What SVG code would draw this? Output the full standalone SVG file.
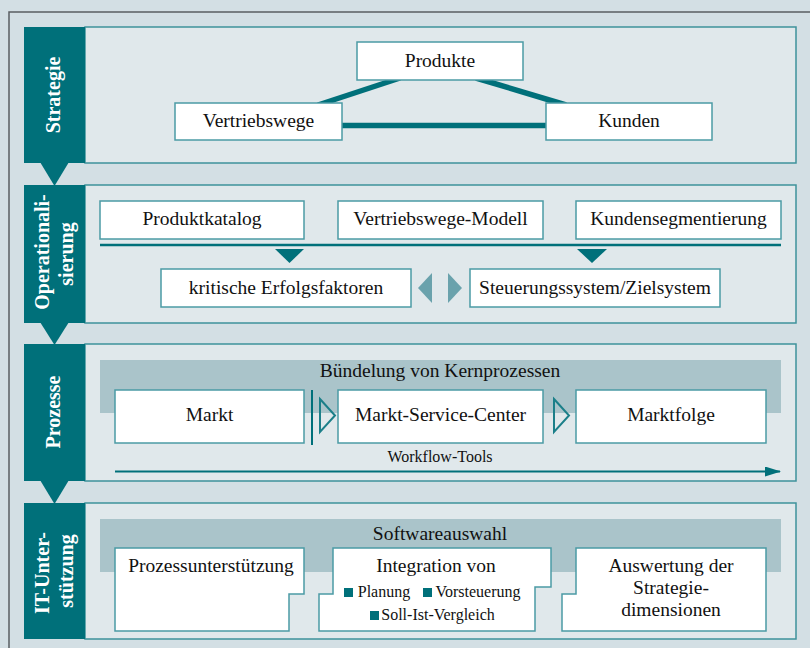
<svg xmlns="http://www.w3.org/2000/svg" width="810" height="648" viewBox="0 0 810 648">
<defs>
<style>
.bg{fill:#d3dfe4}
.frame{fill:none;stroke:#5a5f61;stroke-width:1.5}
.panel{fill:#e0e8eb;stroke:#3e929b;stroke-width:1.5}
.band{fill:#00707a}
.node{fill:#ffffff;stroke:#4b9ba5;stroke-width:1.5}
.grey{fill:#aac4ca}
.t{font-family:"Liberation Serif","Times New Roman",serif;font-size:19.5px;fill:#111;text-anchor:middle}
.ts{font-family:"Liberation Serif","Times New Roman",serif;font-size:16px;fill:#111;text-anchor:middle}
.lbl{font-family:"Liberation Serif","Times New Roman",serif;font-size:20px;font-weight:bold;fill:#ffffff;text-anchor:middle}
.tri{fill:#00707a}
.ltri{fill:#6aa2ac}
.sq{fill:#00707a}
</style>
<marker id="ah" markerWidth="16" markerHeight="10" refX="15" refY="5" orient="auto" markerUnits="userSpaceOnUse">
<path d="M0,0 L16,5 L0,10 Z" fill="#00707a"/>
</marker>
</defs>
<rect class="bg" x="0" y="0" width="810" height="648"/>
<rect class="frame" x="9" y="12" width="820" height="660"/>

<!-- Section panels -->
<g id="sec-strategie">
<rect class="panel" x="85" y="27" width="711" height="136"/>
<rect class="band" x="24" y="27" width="61" height="136"/>
<polygon class="tri" points="40,162 69,162 54.5,186"/>
<text class="lbl" transform="translate(60,95) rotate(-90)">Strategie</text>
</g>
<g id="sec-operationalisierung">
<rect class="panel" x="85" y="185" width="711" height="138"/>
<rect class="band" x="24" y="185" width="61" height="138"/>
<polygon class="tri" points="40,322 69,322 54.5,345"/>
<text class="lbl" transform="translate(49,252) rotate(-90)">Operationali-</text>
<text class="lbl" transform="translate(73,254) rotate(-90)">sierung</text>
</g>
<g id="sec-prozesse">
<rect class="panel" x="85" y="344" width="711" height="137"/>
<rect class="band" x="24" y="344" width="61" height="137"/>
<polygon class="tri" points="40,480 69,480 54.5,504"/>
<text class="lbl" transform="translate(60,412) rotate(-90)">Prozesse</text>
</g>
<g id="sec-it">
<rect class="panel" x="85" y="503" width="711" height="136"/>
<rect class="band" x="24" y="503" width="61" height="136"/>
<text class="lbl" transform="translate(49,573) rotate(-90)">IT-Unter-</text>
<text class="lbl" transform="translate(73,571) rotate(-90)">stützung</text>
</g>

<g id="n-buendelung">
<rect class="grey" x="100" y="360" width="681" height="53"/>
<text class="t" x="440" y="377">Bündelung von Kernprozessen</text>
</g>
<g id="n-softwareauswahl">
<rect class="grey" x="100" y="519" width="681" height="53"/>
<text class="t" x="440" y="540">Softwareauswahl</text>
</g>

<!-- Connectors -->
<g id="connectors">
<line x1="400" y1="78" x2="318" y2="105" stroke="#00707a" stroke-width="5.5"/>
<line x1="476" y1="78" x2="566" y2="105" stroke="#00707a" stroke-width="5.5"/>
<line x1="340" y1="125.5" x2="548" y2="125.5" stroke="#00707a" stroke-width="5.5"/>
<line x1="100" y1="245" x2="781" y2="245" stroke="#00707a" stroke-width="2.5"/>
<polygon class="tri" points="275,249 304,249 289.5,263"/>
<polygon class="tri" points="577,249 607,249 592,263"/>
<polygon class="ltri" points="432,273 432,303 418,288"/>
<polygon class="ltri" points="448,273 448,303 462,288"/>
<line x1="312" y1="390" x2="312" y2="445" stroke="#00707a" stroke-width="2"/>
<polygon points="320,399 335,415.5 320,432" fill="none" stroke="#1b7f89" stroke-width="2"/>
<polygon points="554,399 569,415.5 554,432" fill="none" stroke="#1b7f89" stroke-width="2"/>
<line x1="115" y1="471.5" x2="780" y2="471.5" stroke="#00707a" stroke-width="2" marker-end="url(#ah)"/>
</g>

<!-- Strategie nodes -->
<g id="n-produkte">
<rect class="node" x="357" y="42" width="166" height="38"/>
<text class="t" x="440" y="67">Produkte</text>
</g>
<g id="n-vertriebswege">
<rect class="node" x="175" y="103" width="167" height="37"/>
<text class="t" x="258.5" y="127">Vertriebswege</text>
</g>
<g id="n-kunden">
<rect class="node" x="546" y="103" width="166" height="37"/>
<text class="t" x="629" y="127">Kunden</text>
</g>

<!-- Operationalisierung nodes -->
<g id="n-produktkatalog">
<rect class="node" x="100" y="201" width="204" height="38"/>
<text class="t" x="202" y="225">Produktkatalog</text>
</g>
<g id="n-vertriebswege-modell">
<rect class="node" x="338" y="201" width="205" height="38"/>
<text class="t" x="440.5" y="225">Vertriebswege-Modell</text>
</g>
<g id="n-kundensegmentierung">
<rect class="node" x="576" y="201" width="205" height="38"/>
<text class="t" x="678.5" y="225">Kundensegmentierung</text>
</g>
<g id="n-erfolgsfaktoren">
<rect class="node" x="161" y="269" width="250" height="38"/>
<text class="t" x="286" y="294">kritische Erfolgsfaktoren</text>
</g>
<g id="n-steuerungssystem">
<rect class="node" x="470" y="269" width="250" height="38"/>
<text class="t" x="595" y="294">Steuerungssystem/Zielsystem</text>
</g>

<!-- Prozesse -->
<g id="n-markt">
<rect class="node" x="115" y="390" width="189" height="53"/>
<text class="t" x="209.5" y="421">Markt</text>
</g>
<g id="n-msc">
<rect class="node" x="338" y="390" width="205" height="53"/>
<text class="t" x="440.5" y="421">Markt-Service-Center</text>
</g>
<g id="n-marktfolge">
<rect class="node" x="576" y="390" width="190" height="53"/>
<text class="t" x="671" y="421">Marktfolge</text>
</g>
<g id="n-workflow">
<text class="ts" x="440" y="462">Workflow-Tools</text>
</g>

<!-- IT-Unterstützung -->
<g id="n-prozessunterstuetzung">
<polygon class="node" points="115,548 304,548 304,594 289,594 289,631 115,631"/>
<text class="t" x="211" y="572">Prozessunterstützung</text>
</g>
<g id="n-integration">
<polygon class="node" points="333,548 551,548 551,587 535,587 535,631 319,631 319,594 333,594"/>
<text class="t" x="436" y="572">Integration von</text>
<rect class="sq" x="344" y="588" width="9" height="9"/>
<text class="ts" x="384" y="597">Planung</text>
<rect class="sq" x="423" y="588" width="9" height="9"/>
<text class="ts" x="478" y="597">Vorsteuerung</text>
<rect class="sq" x="370" y="611" width="9" height="9"/>
<text class="ts" x="438" y="620">Soll-Ist-Vergleich</text>
</g>
<g id="n-auswertung">
<polygon class="node" points="576,548 766,548 766,631 562,631 562,594 576,594"/>
<text class="t" x="671" y="572">Auswertung der</text>
<text class="t" x="671" y="594">Strategie-</text>
<text class="t" x="671" y="616">dimensionen</text>
</g>
</svg>
